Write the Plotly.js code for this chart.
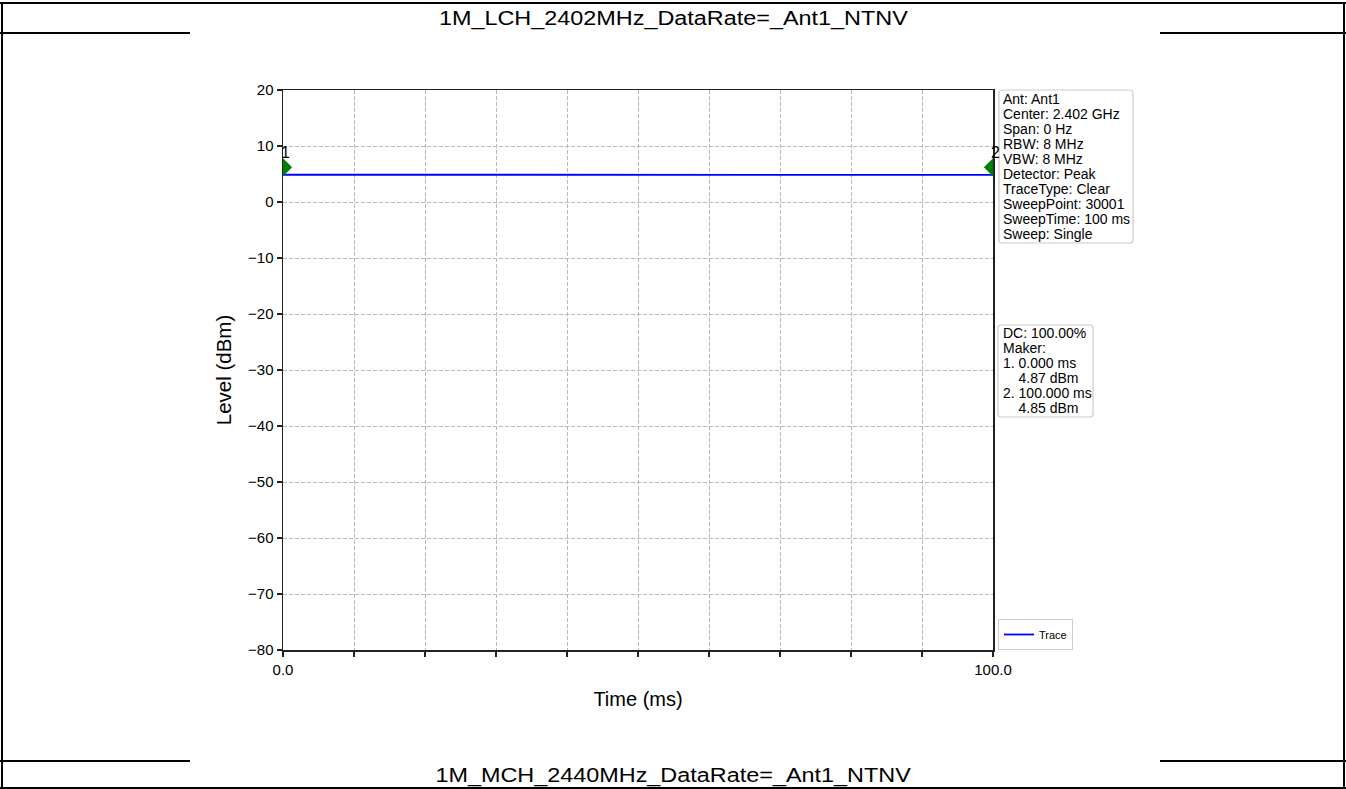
<!DOCTYPE html>
<html><head><meta charset="utf-8">
<script src="https://cdn.plot.ly/plotly-3.0.1.min.js"></script>
<style>
html,body{margin:0;padding:0;width:1346px;height:789px;overflow:hidden;background:#fff;font-family:"Liberation Sans",Arial,sans-serif;}
.ln{position:absolute;background:#000;}
.cap{position:absolute;left:0;width:1346px;text-align:center;font-size:19.5px;color:#000;line-height:22px;}
.cap span{display:inline-block;transform:scaleX(1.2);transform-origin:center;}
#chart{position:absolute;left:190px;top:34px;width:970px;height:727px;background:#fff;}
</style></head>
<body>
<div class="ln" style="left:0;top:2px;width:1346px;height:2px"></div>
<div class="ln" style="left:1px;top:2px;width:2px;height:787px"></div>
<div class="ln" style="left:1343px;top:2px;width:2px;height:787px"></div>
<div class="ln" style="left:0;top:32px;width:190px;height:2px"></div>
<div class="ln" style="left:1160px;top:32px;width:186px;height:2px"></div>
<div class="ln" style="left:0;top:760px;width:190px;height:2px"></div>
<div class="ln" style="left:1160px;top:760px;width:186px;height:2px"></div>
<div class="ln" style="left:0;top:787px;width:1346px;height:2px"></div>
<div class="cap" style="top:7px"><span>1M_LCH_2402MHz_DataRate=_Ant1_NTNV</span></div>
<div class="cap" style="top:764px"><span>1M_MCH_2440MHz_DataRate=_Ant1_NTNV</span></div>
<div id="chart"></div>
<script>
const traceTime = [0, 10, 20, 30, 40, 50, 60, 70, 80, 90, 100];
const traceLevel = [4.87, 4.86, 4.86, 4.87, 4.86, 4.86, 4.85, 4.86, 4.86, 4.85, 4.85];
const markerTime = [0, 100];
const markerLevel = [6.2, 6.2];
const markerLabels = ['1', '2'];
const xTickVals = [0, 10, 20, 30, 40, 50, 60, 70, 80, 90, 100];
const xTickText = ['0.0', '', '', '', '', '', '', '', '', '', '100.0'];
const yTickVals = [20, 10, 0, -10, -20, -30, -40, -50, -60, -70, -80];
const infoText = ['Ant: Ant1', 'Center: 2.402 GHz', 'Span: 0 Hz', 'RBW: 8 MHz', 'VBW: 8 MHz',
  'Detector: Peak', 'TraceType: Clear', 'SweepPoint: 30001', 'SweepTime: 100 ms', 'Sweep: Single'];
const markerText = ['DC: 100.00%', 'Maker:', '1. 0.000 ms', '    4.87 dBm', '2. 100.000 ms', '    4.85 dBm'];

// page-pixel -> paper helpers (plot area spans x 283..993, y 90..650 on the page)
const PX0 = 283, PX1 = 993, PY0 = 90, PY1 = 650;
const px = v => (v - PX0) / (PX1 - PX0);
const py = v => (PY1 - v) / (PY1 - PY0);
function roundRect(x0, y0, x1, y1, r) {
  const f = (x, y) => px(x) + ',' + py(y);
  return 'M' + f(x0 + r, y0) + ' L' + f(x1 - r, y0) + ' Q' + f(x1, y0) + ' ' + f(x1, y0 + r) +
    ' L' + f(x1, y1 - r) + ' Q' + f(x1, y1) + ' ' + f(x1 - r, y1) +
    ' L' + f(x0 + r, y1) + ' Q' + f(x0, y1) + ' ' + f(x0, y1 - r) +
    ' L' + f(x0, y0 + r) + ' Q' + f(x0, y0) + ' ' + f(x0 + r, y0) + ' Z';
}

const font = {family: '"Liberation Sans", Arial, sans-serif', color: '#000'};
const data = [
  {x: traceTime, y: traceLevel, type: 'scatter', mode: 'lines', name: 'Trace',
   line: {color: '#0000ff', width: 1.8}},
  {x: markerTime, y: markerLevel, type: 'scatter', mode: 'markers', showlegend: false,
   marker: {symbol: 'diamond', size: 14, color: '#008000'}, cliponaxis: true, hoverinfo: 'skip'}
];
const annotations = [];
markerLabels.forEach((t, i) => annotations.push({
  xref: 'x', yref: 'y', x: markerTime[i], y: markerLevel[i], text: t, showarrow: false,
  xanchor: 'center', yanchor: 'middle', xshift: 2, yshift: 15, font: {...font, size: 16}}));
infoText.forEach((t, i) => annotations.push({
  xref: 'paper', yref: 'paper', x: px(1002), y: py(99 + 15 * i), xanchor: 'left', yanchor: 'middle',
  align: 'left', text: t, showarrow: false, font: {...font, size: 14}, borderpad: 0}));
markerText.forEach((t, i) => annotations.push({
  xref: 'paper', yref: 'paper', x: px(1002), y: py(333 + 15 * i), xanchor: 'left', yanchor: 'middle',
  align: 'left', text: t.replace(/ /g, '&nbsp;'), showarrow: false, font: {...font, size: 14}, borderpad: 0}));

const shapes = [
  {type: 'path', xref: 'paper', yref: 'paper', path: roundRect(999, 90, 1133, 243, 3),
   line: {color: '#cccccc', width: 1.2}, fillcolor: 'rgba(255,255,255,0.8)', layer: 'above'},
  {type: 'path', xref: 'paper', yref: 'paper', path: roundRect(998, 325, 1093, 417, 3),
   line: {color: '#cccccc', width: 1.2}, fillcolor: 'rgba(255,255,255,0.8)', layer: 'above'}
];

const layout = {
  width: 970, height: 727,
  margin: {l: 93, r: 167, t: 56, b: 111},
  paper_bgcolor: '#fff', plot_bgcolor: '#fff',
  font: {...font, size: 14},
  showlegend: true,
  legend: {x: px(998), y: 0, xanchor: 'left', yanchor: 'bottom', bordercolor: '#cccccc', borderwidth: 1,
           font: {...font, size: 11}, bgcolor: '#fff', itemwidth: 30, tracegroupgap: 0},
  xaxis: {range: [0, 100], tickvals: xTickVals, ticktext: xTickText, ticks: 'outside', ticklen: 5,
          tickcolor: '#222', tickwidth: 1.3, showline: true, linecolor: '#222', linewidth: 1.5, mirror: true,
          showgrid: true, gridcolor: '#b8b8b8', griddash: '4px,2px', gridwidth: 1, zeroline: false,
          title: {text: 'Time (ms)', font: {...font, size: 20}, standoff: 15}, tickfont: {...font, size: 15}},
  yaxis: {range: [-80, 20], tickvals: yTickVals, ticks: 'outside', ticklen: 5,
          tickcolor: '#222', tickwidth: 1.3, showline: true, linecolor: '#222', linewidth: 1.5, mirror: true,
          showgrid: true, gridcolor: '#b8b8b8', griddash: '4px,2px', gridwidth: 1, zeroline: false,
          title: {text: 'Level (dBm)', font: {...font, size: 20.5}, standoff: 11}, tickfont: {...font, size: 15}},
  annotations: annotations,
  shapes: shapes
};
Plotly.newPlot('chart', data, layout, {displayModeBar: false, staticPlot: true});
</script>
</body></html>
